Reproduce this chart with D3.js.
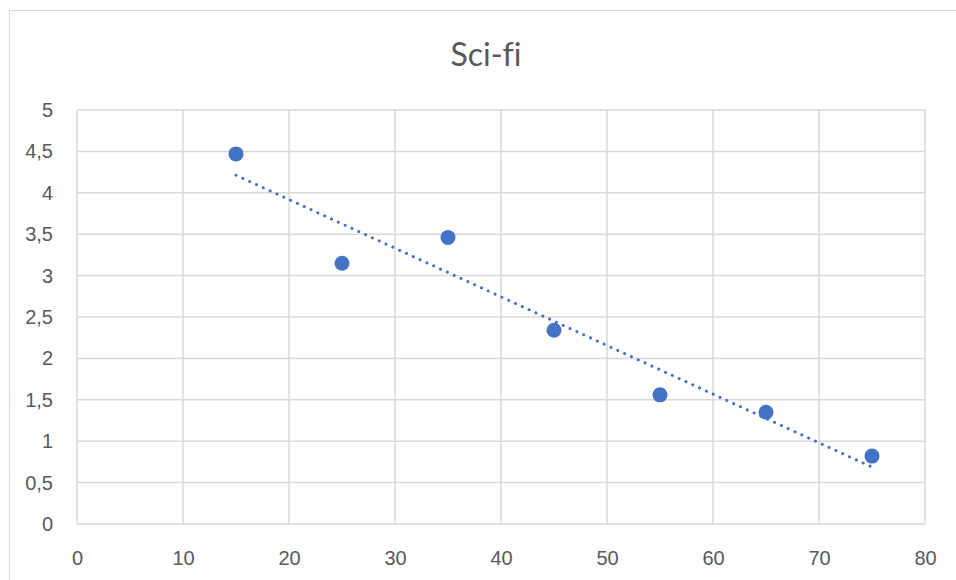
<!DOCTYPE html>
<html>
<head>
<meta charset="utf-8">
<script src="https://cdn.jsdelivr.net/npm/d3@7"></script>
<style>
  body { margin: 0; background: #fff; }
  svg { display: block; font-family: Lato, "Open Sans", sans-serif; font-variant-ligatures: none; }
</style>
</head>
<body>
<svg id="chart" width="956" height="580"></svg>
<script>
// data
const ages = [15, 25, 35, 45, 55, 65, 75]
const scores = [4.47, 3.15, 3.46, 2.34, 1.56, 1.35, 0.82]
const xTicks = [0, 10, 20, 30, 40, 50, 60, 70, 80]
const yTicks = [0, 0.5, 1, 1.5, 2, 2.5, 3, 3.5, 4, 4.5, 5]
const title = "Sci-fi"

const svg = d3.select("#chart")
const blue = "#4472c4"
const grid = "#d9d9d9"
const textCol = "#595959"

// outer chart border
svg.append("rect")
    .attr("x", 9.5).attr("y", 10.5)
    .attr("width", 980).attr("height", 600)
    .attr("fill", "none")
    .attr("stroke", grid)

const x = d3.scaleLinear().domain([0, 80]).range([77, 925])
const y = d3.scaleLinear().domain([0, 5]).range([524, 110])

// gridlines
svg.append("g")
    .selectAll("line")
    .data(yTicks)
    .join("line")
        .attr("x1", x(0)).attr("x2", x(80))
        .attr("y1", d => y(d)).attr("y2", d => y(d))
        .attr("stroke", grid).attr("stroke-width", 1.5)

svg.append("g")
    .selectAll("line")
    .data(xTicks)
    .join("line")
        .attr("x1", d => x(d)).attr("x2", d => x(d))
        .attr("y1", y(0)).attr("y2", y(5))
        .attr("stroke", grid).attr("stroke-width", 1.5)

const fmt = d => String(d).replace(".", ",")

// axis labels
const yAxis = svg.append("g")
    .attr("transform", `translate(${x(0)},0)`)
    .call(d3.axisLeft(y).tickValues(yTicks).tickFormat(fmt).tickSize(0).tickPadding(24))
yAxis.select(".domain").remove()
yAxis.selectAll("text")
    .attr("fill", textCol)
    .style("font-size", "20px")

const xAxis = svg.append("g")
    .attr("transform", `translate(0,${y(0)})`)
    .call(d3.axisBottom(x).tickValues(xTicks).tickFormat(fmt).tickSize(0).tickPadding(27))
xAxis.select(".domain").remove()
xAxis.selectAll("text")
    .attr("fill", textCol)
    .style("font-size", "20px")

// linear trendline (least squares)
const mx = d3.mean(ages), my = d3.mean(scores)
const slope = d3.sum(ages, (a, i) => (a - mx) * (scores[i] - my)) / d3.sum(ages, a => (a - mx) ** 2)
const icpt = my - slope * mx
const ext = d3.extent(ages)

svg.append("line")
    .attr("x1", x(ext[0])).attr("y1", y(icpt + slope * ext[0]))
    .attr("x2", x(ext[1])).attr("y2", y(icpt + slope * ext[1]))
    .attr("stroke", blue)
    .attr("stroke-width", 3)
    .attr("stroke-linecap", "round")
    .attr("stroke-dasharray", "0.1 7.4")

// points
svg.append("g")
    .selectAll("circle")
    .data(ages)
    .join("circle")
        .attr("cx", d => x(d))
        .attr("cy", (d, i) => y(scores[i]))
        .attr("r", 7.5)
        .attr("fill", blue)

svg.append("text")
    .attr("x", 486).attr("y", 66)
    .attr("text-anchor", "middle")
    .attr("fill", textCol)
    .style("font-size", "32px")
    .text(title)
</script>
</body>
</html>
